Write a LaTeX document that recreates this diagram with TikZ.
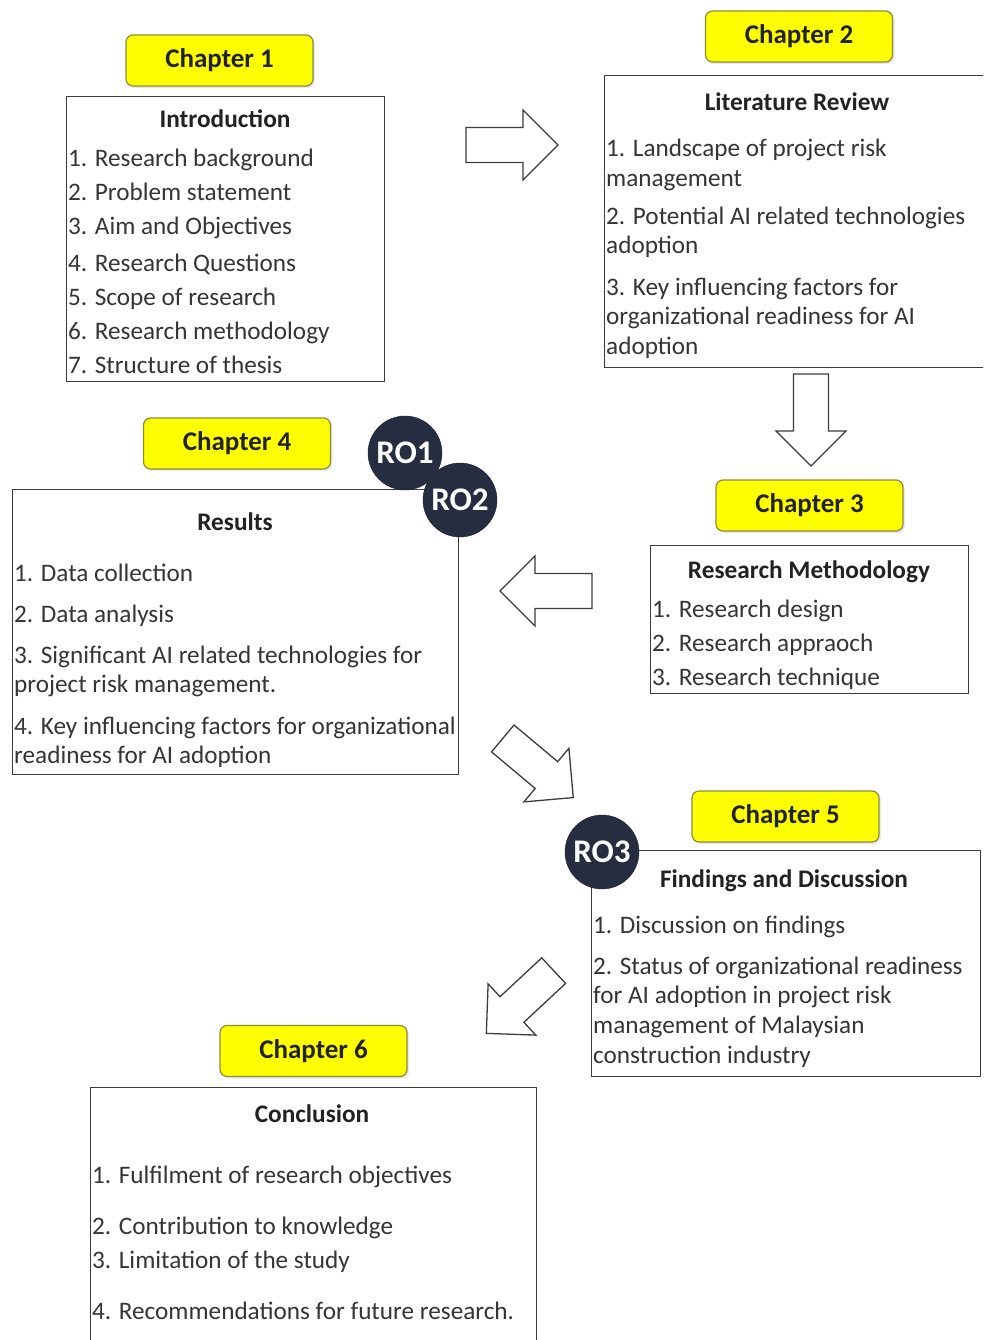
\documentclass[tikz,border=0pt]{standalone}
\usepackage{fontspec}
\setmainfont{Carlito}
\usetikzlibrary{shadows}
\definecolor{chapfill}{HTML}{FFFF00}
\definecolor{chapedge}{HTML}{8C8C3C}
\definecolor{boxedge}{HTML}{3C3C3C}
\definecolor{txt}{HTML}{353535}
\definecolor{ttl}{HTML}{222222}
\definecolor{rofill}{HTML}{262D40}
\tikzset{
  chapbox/.style={draw=chapedge, line width=1.2pt, fill=chapfill, rounded corners=7pt,
    minimum width=187pt, minimum height=51pt, inner sep=0pt,
    font=\fontsize{27}{30}\selectfont\bfseries, text=ttl,
    drop shadow={opacity=0.18, shadow xshift=2pt, shadow yshift=-2pt}},
  contentbox/.style={draw=boxedge, line width=1.4pt, anchor=north west, inner sep=0pt},
  boxtitle/.style={font=\fontsize{25.3}{28}\selectfont\bfseries, text=ttl, inner sep=0pt, anchor=base},
  item/.style={font=\fontsize{25.2}{28}\selectfont, text=txt, inner sep=0pt, anchor=base west},
  rocircle/.style={circle, fill=rofill, draw=rofill!80!black, minimum size=74pt, inner sep=0pt,
    font=\fontsize{33}{36}\selectfont\bfseries, text=white},
  blockarrow/.pic={
    \draw[boxedge, line width=1.3pt, fill=white, line join=miter]
      (-46,-17.5) -- (11,-17.5) -- (11,-35) -- (46,0) -- (11,35) -- (11,17.5) -- (-46,17.5) -- cycle;
  }
}
\begin{document}
\begin{tikzpicture}[x=1pt,y=-1pt]
\useasboundingbox (0,0) rectangle (983,1340);
\clip (0,0) rectangle (983,1340);
\fill[white] (0,0) rectangle (983,1340);

% Chapter 1
\node[chapbox] (c1) at (219.5,60.5) {Chapter 1};
\node[contentbox, minimum width=318pt, minimum height=285pt] (b1) at (66,96) {};
\node[boxtitle] (t1) at (225,128) {Introduction};
\node[item] (i11) at (68,167) {1. Research background};
\node[item] (i12) at (68,201) {2. Problem statement};
\node[item] (i13) at (68,235) {3. Aim and Objectives};
\node[item] (i14) at (68,271) {4. Research Questions};
\node[item] (i15) at (68,305) {5. Scope of research};
\node[item] (i16) at (68,339) {6. Research methodology};
\node[item] (i17) at (68,373) {7. Structure of thesis};

% Chapter 2
\node[chapbox] (c2) at (799,36.5) {Chapter 2};
\node[contentbox, minimum width=380pt, minimum height=292pt] (b2) at (604,75) {};
\node[boxtitle] (t2) at (797,111) {Literature Review};
\node[item] (i21) at (606,157) {1. Landscape of project risk};
\node[item] (i22) at (606,187) {management};
\node[item] (i23) at (606,225) {2. Potential AI related technologies};
\node[item] (i24) at (606,254) {adoption};
\node[item] (i25) at (606,295) {3. Key influencing factors for};
\node[item] (i26) at (606,324) {organizational readiness for AI};
\node[item] (i27) at (606,354) {adoption};

% Chapter 3
\node[chapbox] (c3) at (809.5,505.5) {Chapter 3};
\node[contentbox, minimum width=318pt, minimum height=148pt] (b3) at (650,545) {};
\node[boxtitle] (t3) at (809,578) {Research Methodology};
\node[item] (i31) at (652,617) {1. Research design};
\node[item] (i32) at (652,651) {2. Research appraoch};
\node[item] (i33) at (652,685) {3. Research technique};

% Chapter 4
\node[chapbox] (c4) at (237,443.5) {Chapter 4};
\node[contentbox, minimum width=446pt, minimum height=285pt] (b4) at (12,489) {};
\node[boxtitle] (t4) at (235,530) {Results};
\node[item] (i41) at (14,581) {1. Data collection};
\node[item] (i42) at (14,622) {2. Data analysis};
\node[item] (i43) at (14,663) {3. Significant AI related technologies for};
\node[item] (i44) at (14,692) {project risk management.};
\node[item] (i45) at (14,734) {4. Key influencing factors for organizational};
\node[item] (i46) at (14,763) {readiness for AI adoption};
\node[rocircle] (ro1) at (405,453) {RO1};
\node[rocircle] (ro2) at (460,500) {RO2};

% Chapter 5
\node[chapbox] (c5) at (785.5,816.5) {Chapter 5};
\node[contentbox, minimum width=389pt, minimum height=226pt] (b5) at (591,850) {};
\node[boxtitle] (t5) at (784,887) {Findings and Discussion};
\node[item] (i51) at (593,933) {1. Discussion on findings};
\node[item] (i52) at (593,974) {2. Status of organizational readiness};
\node[item] (i53) at (593,1003) {for AI adoption in project risk};
\node[item] (i54) at (593,1033) {management of Malaysian};
\node[item] (i55) at (593,1063) {construction industry};
\node[rocircle] (ro3) at (602,852) {RO3};

% Chapter 6
\node[chapbox] (c6) at (313.5,1051) {Chapter 6};
\node[contentbox, minimum width=446pt, minimum height=270pt] (b6) at (90,1087) {};
\node[boxtitle] (t6) at (312,1122) {Conclusion};
\node[item] (i61) at (92,1183) {1. Fulfilment of research objectives};
\node[item] (i62) at (92,1234) {2. Contribution to knowledge};
\node[item] (i63) at (92,1268) {3. Limitation of the study};
\node[item] (i64) at (92,1319) {4. Recommendations for future research.};

% block arrows
\pic at (512,145) {blockarrow};
\pic[rotate=-90] at (811,420) {blockarrow};
\pic[rotate=180] at (546,591) {blockarrow};
\pic[rotate=-40] at (538,768) {blockarrow};
\pic[rotate=-137] at (520,1002) {blockarrow};
\end{tikzpicture}
\end{document}
